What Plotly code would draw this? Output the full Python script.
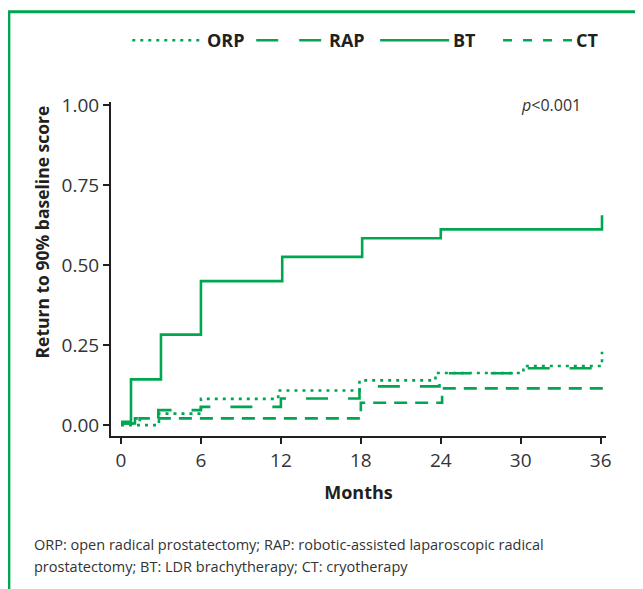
import plotly.graph_objects as go

# ---------------- data ----------------
orp_t = [0, 2.85, 6.0, 11.8, 17.9, 23.6, 30.2, 36.1]
orp_v = [0.0, 0.036, 0.082, 0.108, 0.140, 0.163, 0.185, 0.229]

rap_t = [0, 1.05, 2.8, 6.0, 12.0, 17.9, 23.9, 30.2, 36.1]
rap_v = [0.005, 0.021, 0.047, 0.057, 0.083, 0.121, 0.162, 0.178, 0.178]

bt_t = [0, 0.75, 3.0, 6.0, 12.1, 18.1, 24.0, 36.1]
bt_v = [0.010, 0.143, 0.283, 0.450, 0.526, 0.584, 0.612, 0.656]

ct_t = [0, 1.4, 18.0, 24.1, 36.4]
ct_v = [0.005, 0.021, 0.070, 0.115, 0.115]

x_ticks = [0, 6, 12, 18, 24, 30, 36]
y_ticks = [0.0, 0.25, 0.5, 0.75, 1.0]
y_ticktext = ["0.00", "0.25", "0.50", "0.75", "1.00"]

series_names = ["ORP", "RAP", "BT", "CT"]
footnote_lines = [
    "ORP: open radical prostatectomy; RAP: robotic-assisted laparoscopic radical",
    "prostatectomy; BT: LDR brachytherapy; CT: cryotherapy",
]

# ---------------- style ----------------
GREEN = "#00a651"
DARK = "#231f20"
GREY = "#333333"
FONT = "Open Sans"
dashes = {"ORP": "3px,5px", "RAP": "22px,20px", "BT": "solid", "CT": "13px,8px"}
legend_dashes = {"ORP": "3px,5px", "RAP": "22px,21px", "BT": "solid", "CT": "9px,11px"}

# the page body adds an 8px margin; positions below are page pixels
OFF = 8
W, H = 643 - OFF, 589 - OFF
L, R_EDGE, T, B_EDGE = 110.7 - OFF, 606.0 - OFF, 101.8 - OFF, 436.0 - OFF
PW, PH = R_EDGE - L, B_EDGE - T


def px(xp):
    return (xp - OFF - L) / PW


def py(yp):
    return (B_EDGE - (yp - OFF)) / PH


fig = go.Figure()
for name, t, v in [("ORP", orp_t, orp_v), ("RAP", rap_t, rap_v),
                   ("BT", bt_t, bt_v), ("CT", ct_t, ct_v)]:
    fig.add_trace(go.Scatter(
        x=t, y=v, mode="lines", name=name, line_shape="hv",
        line=dict(color=GREEN, width=2.6, dash=dashes[name]),
        showlegend=False,
    ))

shapes = []
annotations = []

# frame
shapes.append(dict(type="rect", xref="paper", yref="paper",
                   x0=px(8.5), x1=px(700), y0=py(700), y1=py(11.5),
                   line=dict(color=GREEN, width=3)))

# manual legend
legend_items = [("ORP", 132, 204, 205), ("RAP", 256, 321, 327),
                ("BT", 380, 449, 451), ("CT", 503, 573, 574)]
LEG_Y = 40
for name, x0, x1, xt in legend_items:
    shapes.append(dict(type="line", xref="paper", yref="paper",
                       x0=px(x0), x1=px(x1), y0=py(LEG_Y), y1=py(LEG_Y),
                       line=dict(color=GREEN, width=2.6, dash=legend_dashes[name])))
    annotations.append(dict(xref="paper", yref="paper", x=px(xt), y=py(LEG_Y),
                            xanchor="left", yanchor="middle", showarrow=False,
                            text="<b>%s</b>" % name,
                            font=dict(family=FONT, size=18, color=DARK)))

annotations.append(dict(xref="paper", yref="paper", x=px(583), y=py(105),
                        xanchor="right", yanchor="middle", showarrow=False,
                        text="<i>p</i>&lt;0.001",
                        font=dict(family=FONT, size=16, color=GREY)))

# y-axis title (placed above the axis centre, as in the reference)
annotations.append(dict(xref="paper", yref="paper", x=px(42), y=py(232),
                        xanchor="center", yanchor="middle", showarrow=False,
                        textangle=-90, text="<b>Return to 90% baseline score</b>",
                        font=dict(family=FONT, size=17.5, color=DARK)))

for i, line in enumerate(footnote_lines):
    annotations.append(dict(xref="paper", yref="paper", x=px(32), y=py(545 + 22 * i),
                            xanchor="left", yanchor="middle", showarrow=False,
                            text=line,
                            font=dict(family=FONT, size=14.5, color=GREY)))

fig.update_layout(
    width=W, height=H, autosize=False,
    margin=dict(l=L, r=W - R_EDGE, t=T, b=H - B_EDGE, pad=0),
    paper_bgcolor="white", plot_bgcolor="white",
    font=dict(family=FONT, color=GREY),
    shapes=shapes, annotations=annotations,
    xaxis=dict(range=[-0.75, 36.4], tickvals=x_ticks, showgrid=False, zeroline=False,
               showline=True, linecolor=DARK, linewidth=2,
               ticks="outside", ticklen=6, tickwidth=1.5, tickcolor=DARK,
               tickfont=dict(family=FONT, size=19, color=GREY),
               title=dict(text="<b>Months</b>", standoff=15,
                          font=dict(family=FONT, size=18, color=DARK))),
    yaxis=dict(range=[-0.034, 1.01], tickvals=y_ticks, ticktext=y_ticktext,
               showgrid=False, zeroline=False,
               showline=True, linecolor=DARK, linewidth=2,
               ticks="outside", ticklen=6, tickwidth=1.5, tickcolor=DARK,
               tickfont=dict(family=FONT, size=19, color=GREY)),
)

fig.write_html("out.html")
